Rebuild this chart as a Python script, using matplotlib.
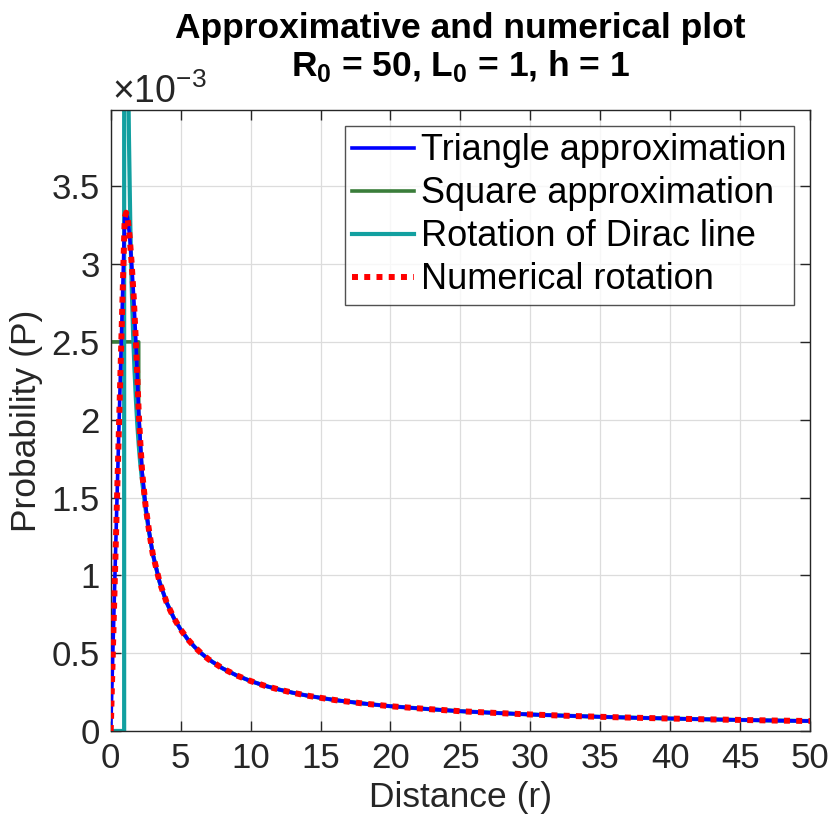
import numpy as np
import matplotlib
matplotlib.use("Agg")
import matplotlib.pyplot as plt
from matplotlib.ticker import FuncFormatter

plt.rcParams['font.family'] = ['Liberation Sans', 'DejaVu Sans']
plt.rcParams['mathtext.fontset'] = 'custom'
plt.rcParams['mathtext.rm'] = 'Liberation Sans'
plt.rcParams['mathtext.bf'] = 'Liberation Sans:bold'

# ---- data (P values in units of 1e-3) ----
tail_r = [3.0, 3.5, 4.0, 4.5, 5.0, 5.5, 6.0, 6.5, 7.0, 8.0, 9.0, 10.0, 11.0, 12.0,
          13.0, 14.0, 15.0, 16.0, 18.0, 20.0, 22.5, 25.0, 27.5, 30.0, 32.5, 35.0,
          37.5, 40.0, 42.5, 45.0, 47.5, 50.0]
tail_p = [1.14, 0.955, 0.825, 0.728, 0.652, 0.590, 0.540, 0.497, 0.460, 0.402,
          0.357, 0.321, 0.291, 0.267, 0.246, 0.228, 0.213, 0.199, 0.177, 0.159,
          0.142, 0.127, 0.116, 0.106, 0.098, 0.091, 0.085, 0.080, 0.075, 0.071,
          0.067, 0.064]

tri_r = [0.0, 0.25, 0.5, 0.75, 1.0, 1.1, 1.2, 1.35, 1.5, 1.65, 1.8, 1.9, 2.0,
         2.1, 2.25, 2.5, 2.75]
tri_p = [0.0, 0.83, 1.66, 2.48, 3.30, 3.33, 3.30, 3.18, 3.00, 2.78, 2.50, 2.28,
         2.05, 1.88, 1.66, 1.44, 1.28]

num_r = [0.0, 0.25, 0.5, 0.75, 1.0, 1.1, 1.2, 1.35, 1.5, 1.65, 1.8, 1.9, 2.0,
         2.1, 2.25, 2.5, 2.75]
num_p = [0.0, 0.83, 1.66, 2.48, 3.30, 3.33, 3.30, 3.18, 3.00, 2.78, 2.50, 2.28,
         2.05, 1.88, 1.66, 1.44, 1.28]

sq_r = [0.0, 2.0, 2.0, 2.1, 2.25, 2.5, 2.75]
sq_p = [2.5, 2.5, 2.05, 1.88, 1.66, 1.44, 1.28]

dirac_r = [0.0, 0.96, 0.97, 1.02, 1.05, 1.1, 1.15, 1.2, 1.25, 1.3, 1.4, 1.5,
           1.6, 1.7, 1.8, 1.9, 2.0, 2.1, 2.25, 2.5, 2.75]
dirac_p = [0.0, 0.0, 60.0, 15.8, 9.94, 6.95, 5.60, 4.80, 4.24, 3.83, 3.25, 2.85,
           2.55, 2.32, 2.13, 1.97, 1.84, 1.73, 1.60, 1.42, 1.27]

labels = ["Triangle approximation", "Square approximation",
          "Rotation of Dirac line", "Numerical rotation"]
title_lines = ["Approximative and numerical plot",
               r"R$_\mathbf{0}$ = 50, L$_\mathbf{0}$ = 1, h = 1"]
xticks = [0, 5, 10, 15, 20, 25, 30, 35, 40, 45, 50]
yticks = [0, 0.5, 1.0, 1.5, 2.0, 2.5, 3.0, 3.5]

fig = plt.figure(figsize=(8.3, 8.3), dpi=100)
ax = fig.add_axes([0.1334, 0.1193, 0.8426, 0.7482])

c_blue = '#0000ff'
c_green = '#3a7d3a'
c_cyan = '#12a0a0'
c_red = '#ff0000'

ax.plot(tri_r + tail_r, tri_p + tail_p, color=c_blue, lw=2.6, label=labels[0], zorder=3)
ax.plot(sq_r + tail_r, sq_p + tail_p, color=c_green, lw=2.6, label=labels[1], zorder=2)
ax.plot(dirac_r + tail_r, dirac_p + tail_p, color=c_cyan, lw=3.0, label=labels[2], zorder=2.5)
ax.plot(num_r + tail_r, num_p + tail_p, color=c_red, lw=4.3, ls=(0, (1.0, 1.05)),
        dash_capstyle='butt', label=labels[3], zorder=4)

ax.set_xlim(0, 50)
ax.set_ylim(0, 3.99)
ax.set_xticks(xticks)
ax.set_yticks(yticks)
ax.yaxis.set_major_formatter(FuncFormatter(lambda v, p: f"{v:g}"))
ax.xaxis.set_major_formatter(FuncFormatter(lambda v, p: f"{v:g}"))

axcol = '#262626'
ax.grid(True, color='#dcdcdc', lw=0.9)
ax.set_axisbelow(True)
ax.tick_params(direction='in', length=7, width=1.0, colors=axcol, labelsize=25,
               top=True, right=True, pad=8)
for s in ax.spines.values():
    s.set_color(axcol)
    s.set_linewidth(1.0)

ax.set_xlabel("Distance (r)", fontsize=25.5, color=axcol, labelpad=4)
ax.set_ylabel("Probability (P)", fontsize=25.5, color=axcol, labelpad=6)

ax.text(0.5, 1.116, title_lines[0], transform=ax.transAxes, fontsize=25.5,
        fontweight='bold', ha='center', va='baseline')
ax.text(0.5, 1.0548, title_lines[1], transform=ax.transAxes, fontsize=25.5,
        fontweight='bold', ha='center', va='baseline')

ax.text(0.002, 1.012, r"$\times$10$^{\mathrm{-3}}$", transform=ax.transAxes, fontsize=27,
        color=axcol, ha='left', va='baseline')

leg = ax.legend(loc='upper right', fontsize=26, frameon=True, fancybox=False,
                edgecolor=axcol, borderpad=0.2, labelspacing=0.22,
                handlelength=1.7, handletextpad=0.2, borderaxespad=0.45)
leg.get_frame().set_linewidth(1.0)

fig.savefig("out.png", dpi=100)
